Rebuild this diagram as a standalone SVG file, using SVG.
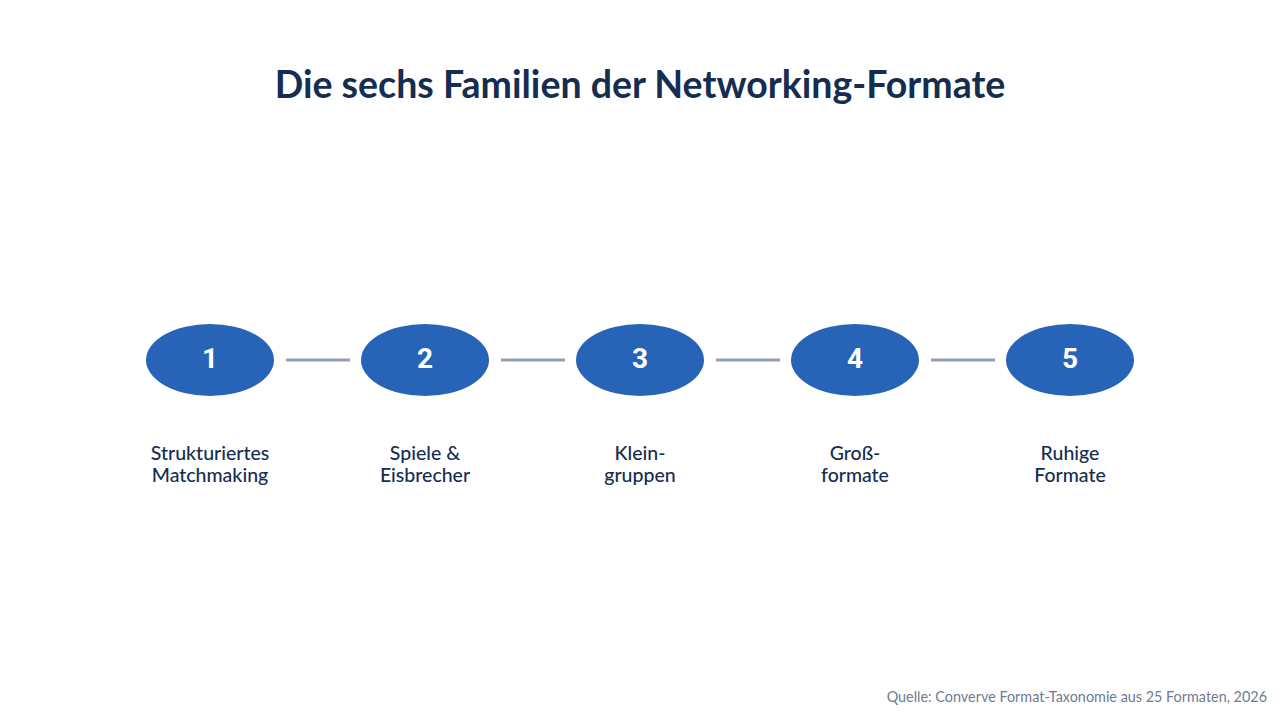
<svg xmlns="http://www.w3.org/2000/svg" width="1280" height="720" viewBox="0 0 1280 720">
<style>
.title{font-family:Lato,"Liberation Sans",sans-serif;font-weight:700;font-size:37.5px;fill:#162d52;text-anchor:middle}
.node{fill:#2764b7}
.num{font-family:Roboto,"Liberation Sans",sans-serif;font-weight:700;font-size:28px;fill:#ffffff;text-anchor:middle}
.lbl{font-family:Lato,"Liberation Sans",sans-serif;font-weight:500;font-size:19.5px;fill:#162d52;text-anchor:middle}
.edge{stroke:#959fad;stroke-width:3;fill:none}
.src{font-family:Lato,"Liberation Sans",sans-serif;font-size:14.4px;fill:#6d7c92;text-anchor:end}
</style>
<rect width="1280" height="720" fill="#ffffff"/>
<text class="title" x="640" y="98">Die sechs Familien der Networking-Formate</text>
<g id="connectors">
<line class="edge" x1="286" y1="360" x2="350" y2="360"/>
<line class="edge" x1="501" y1="360" x2="565" y2="360"/>
<line class="edge" x1="716" y1="360" x2="780" y2="360"/>
<line class="edge" x1="931" y1="360" x2="995" y2="360"/>
</g>
<g id="node1"><ellipse class="node" cx="210" cy="360" rx="64" ry="36"/><text class="num" x="210" y="368">1</text><text class="lbl" x="210" y="460">Strukturiertes</text><text class="lbl" x="210" y="482">Matchmaking</text></g>
<g id="node2"><ellipse class="node" cx="425" cy="360" rx="64" ry="36"/><text class="num" x="425" y="368">2</text><text class="lbl" x="425" y="460">Spiele &amp;</text><text class="lbl" x="425" y="482">Eisbrecher</text></g>
<g id="node3"><ellipse class="node" cx="640" cy="360" rx="64" ry="36"/><text class="num" x="640" y="368">3</text><text class="lbl" x="640" y="460">Klein-</text><text class="lbl" x="640" y="482">gruppen</text></g>
<g id="node4"><ellipse class="node" cx="855" cy="360" rx="64" ry="36"/><text class="num" x="855" y="368">4</text><text class="lbl" x="855" y="460">Groß-</text><text class="lbl" x="855" y="482">formate</text></g>
<g id="node5"><ellipse class="node" cx="1070" cy="360" rx="64" ry="36"/><text class="num" x="1070" y="368">5</text><text class="lbl" x="1070" y="460">Ruhige</text><text class="lbl" x="1070" y="482">Formate</text></g>
<text class="src" x="1267" y="702">Quelle: Converve Format-Taxonomie aus 25 Formaten, 2026</text>
</svg>
